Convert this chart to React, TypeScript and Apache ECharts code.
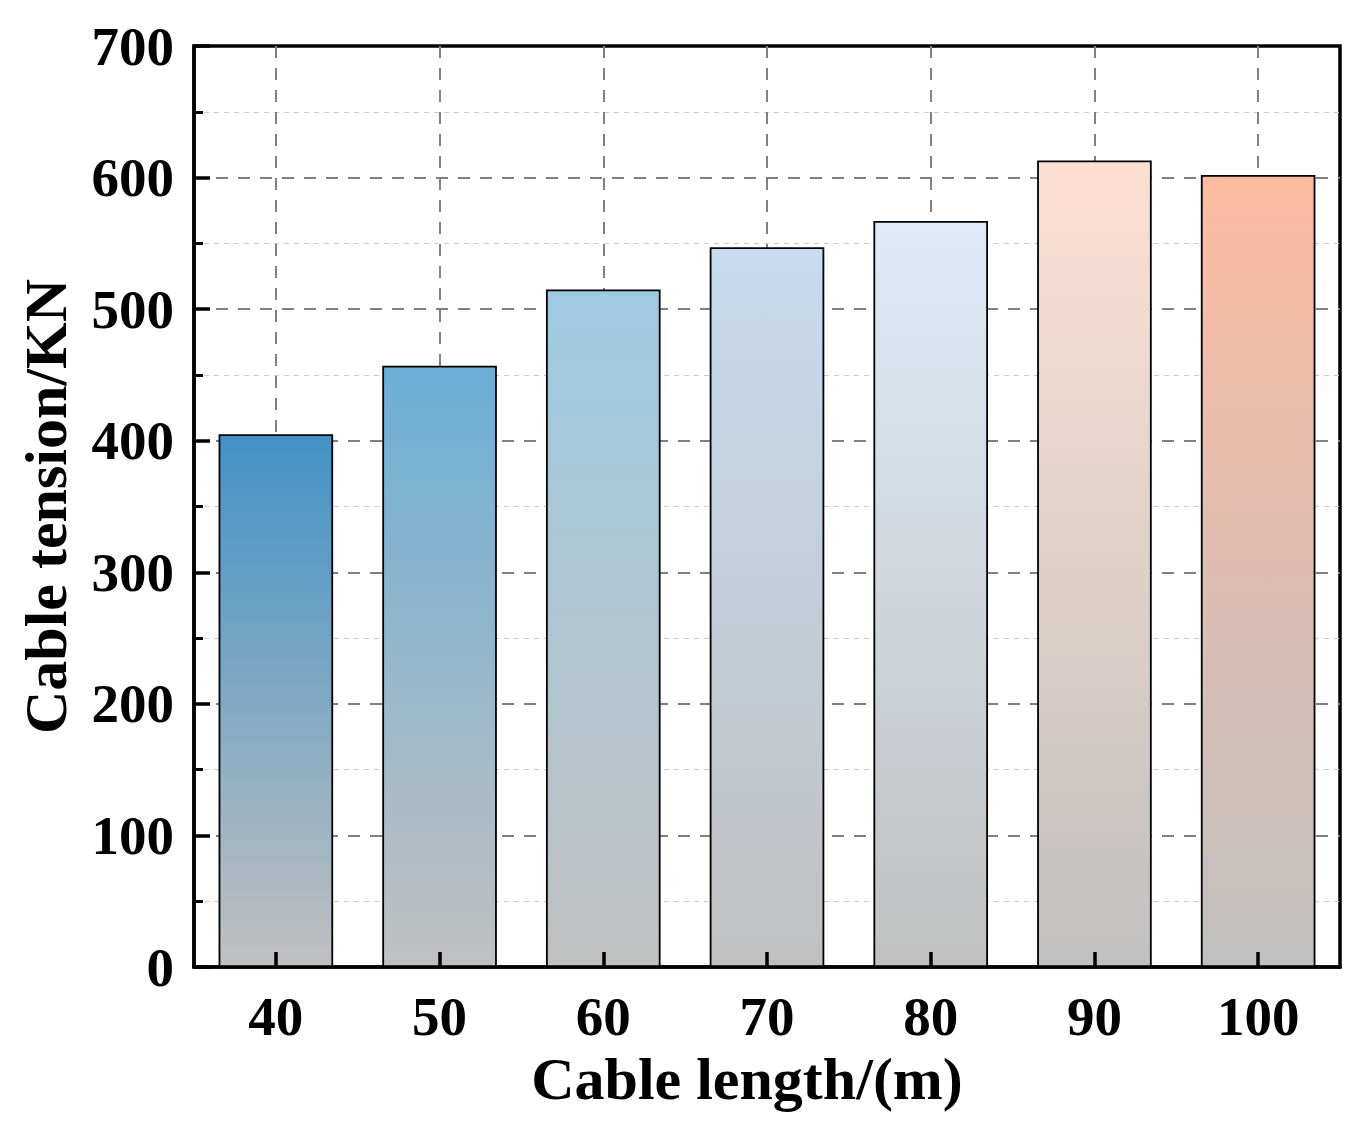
import { useEffect, useRef } from 'react';
import * as echarts from 'echarts';

const lengths = ['40', '50', '60', '70', '80', '90', '100'];
const tension = [405, 457, 515, 547, 567, 613, 602];
const topColors = ['#4292c6', '#6baed6', '#9ecae1', '#c6dbef', '#deebf7', '#fee0d2', '#fcbba1'];
const bottomColor = '#c0c0c0';
const yMin = 0;
const yMax = 700;
const yStep = 100;

const font = '"Liberation Serif", "Times New Roman", serif';

export default function App() {
  const chartRef = useRef<HTMLDivElement>(null);

  useEffect(() => {
    if (!chartRef.current) return;
    document.body.style.margin = '0';
    const instance = echarts.init(chartRef.current, undefined, { renderer: 'svg' });

    const majorDash = { color: '#808080', type: [12, 10], width: 2 };
    const tickLine = { color: '#000', width: 3.5 };

    const option = {
      animation: false,
      backgroundColor: '#ffffff',
      grid: {
        left: 194,
        right: 25,
        top: 46,
        bottom: 170,
        show: true,
        borderColor: '#000',
        borderWidth: 3.5,
        backgroundColor: 'transparent',
      },
      xAxis: [
        {
          type: 'category',
          data: lengths,
          name: 'Cable length/(m)',
          nameLocation: 'middle',
          nameGap: 80,
          nameTextStyle: {
            fontFamily: font,
            fontWeight: 'bold',
            fontSize: 60,
            color: '#000',
            padding: [0, 40, 0, 0],
          },
          axisLine: { lineStyle: tickLine },
          axisTick: { show: false },
          axisLabel: { fontFamily: font, fontWeight: 'bold', fontSize: 55, color: '#000', margin: 22 },
          splitLine: {
            show: true,
            alignWithLabel: true,
            lineStyle: majorDash,
          },
        },
        {
          // tick marks only, drawn above the bars
          type: 'category',
          data: lengths,
          position: 'bottom',
          z: 5,
          axisLine: { show: false },
          axisLabel: { show: false },
          splitLine: { show: false },
          axisTick: { show: true, inside: true, length: 15, alignWithLabel: true, lineStyle: tickLine },
        },
      ],
      yAxis: [
        {
          type: 'value',
          min: yMin,
          max: yMax,
          interval: yStep,
          name: 'Cable tension/KN',
          nameLocation: 'middle',
          nameGap: 118,
          nameTextStyle: { fontFamily: font, fontWeight: 'bold', fontSize: 60, color: '#000' },
          axisLine: { show: true, lineStyle: tickLine },
          axisTick: { show: false },
          axisLabel: { fontFamily: font, fontWeight: 'bold', fontSize: 55, color: '#000', margin: 20 },
          splitLine: { show: true, showMinLine: false, showMaxLine: false, lineStyle: majorDash },
          minorTick: { show: false, splitNumber: 2 },
          minorSplitLine: { show: true, lineStyle: { color: '#cccccc', type: [5, 5], width: 1.2 } },
        },
        {
          // tick marks only, drawn above the grid lines
          type: 'value',
          min: yMin,
          max: yMax,
          interval: yStep,
          position: 'left',
          z: 5,
          axisLine: { show: false },
          axisLabel: { show: false },
          splitLine: { show: false },
          axisTick: { show: true, inside: true, length: 16, lineStyle: tickLine },
          minorTick: { show: true, splitNumber: 2, length: 9, lineStyle: { color: '#000', width: 3 } },
        },
      ],
      series: [
        {
          type: 'bar',
          xAxisIndex: 0,
          yAxisIndex: 0,
          barWidth: '70%',
          data: tension.map((v, i) => ({
            value: v,
            itemStyle: {
              color: new echarts.graphic.LinearGradient(0, 0, 0, 1, [
                { offset: 0, color: topColors[i] },
                { offset: 1, color: bottomColor },
              ]),
              borderColor: '#000',
              borderWidth: 1.8,
            },
          })),
        },
      ],
    };

    instance.setOption(option);

    return () => {
      instance.dispose();
    };
  }, []);

  return <div ref={chartRef} style={{ width: 1365, height: 1137 }} />;
}
